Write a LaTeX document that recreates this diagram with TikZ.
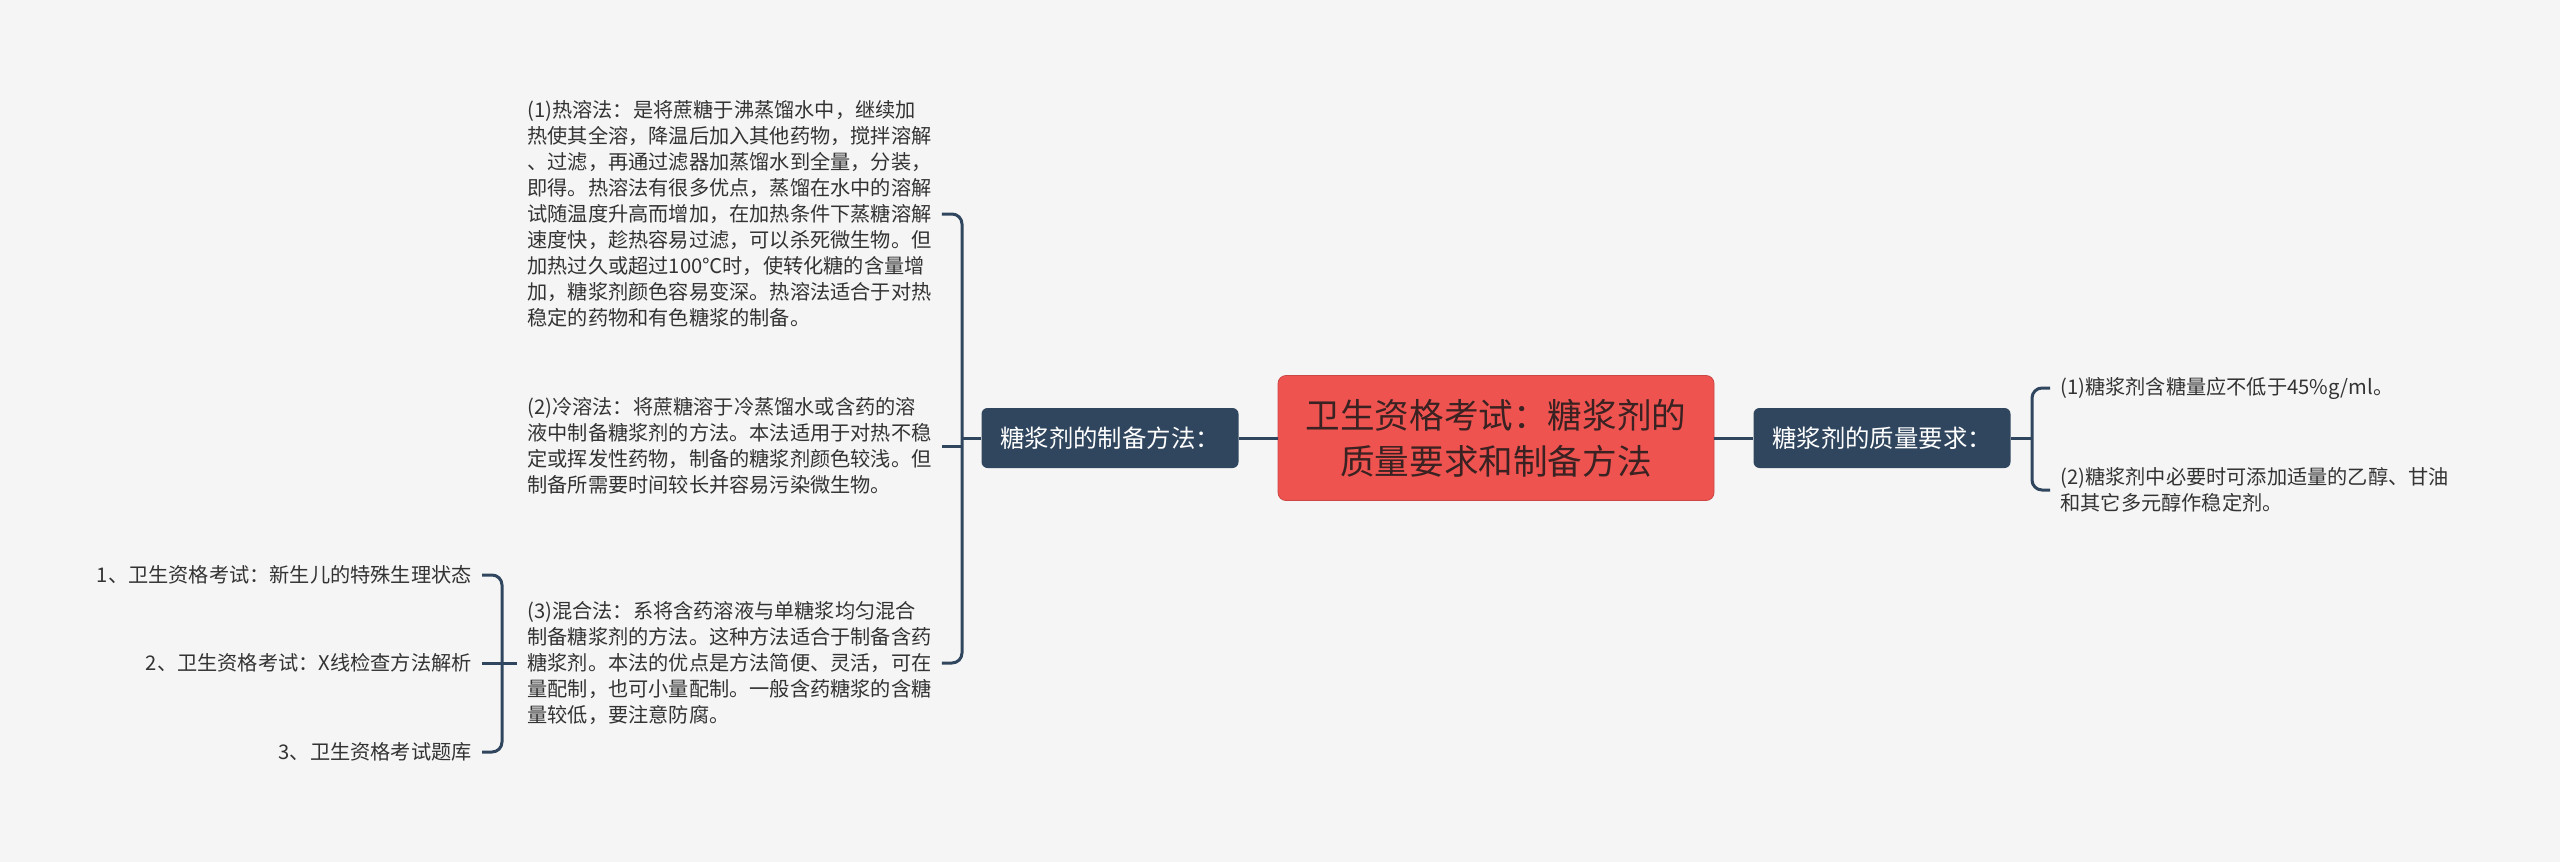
\documentclass[tikz,border=0pt]{standalone}
\usepackage{fontspec}
\setmainfont{Noto Sans CJK SC}
\usetikzlibrary{
positioning
}
\definecolor{bgcol}{HTML}{F5F5F5}
\definecolor{topicred}{HTML}{EF5350}
\definecolor{slate}{HTML}{30465E}
\definecolor{leaftext}{HTML}{333333}
\definecolor{titletext}{HTML}{3A2222}

\begin{document}
\begin{tikzpicture}[
x=0.5pt, y=-0.5pt,
root/.style={
rectangle,
rounded corners=4pt,
draw=topicred!85!black,
line width=0.4pt,
fill=topicred,
text=titletext,
minimum width=218pt,
minimum height=62.5pt,
align=center,
font=\fontsize{17.3}{22.9}\selectfont
},
branch/.style={
rectangle,
rounded corners=3pt,
fill=slate,
text=white,
minimum width=128.5pt,
minimum height=30pt,
align=center,
font=\fontsize{12.2}{15}\selectfont
},
leaf/.style={
inner xsep=5pt,
inner ysep=0pt,
align=left,
text=leaftext,
font=\fontsize{10.1}{13}\selectfont
},
link/.style={draw=slate, line width=1.5pt, rounded corners=5pt}
]

\fill[bgcol] (0,0) rectangle (2560,862);

\node[root] (title) at (1496,438) {卫生资格考试：糖浆剂的\\质量要求和制备方法};
\node[branch] (prep) at (1110,438) {糖浆剂的制备方法：};
\node[branch] (quality) at (1882,438) {糖浆剂的质量要求：};

% preparation methods
\node[leaf, anchor=west] (hot) at (517,214) {(1)热溶法：是将蔗糖于沸蒸馏水中，继续加\\热使其全溶，降温后加入其他药物，搅拌溶解\\、过滤，再通过滤器加蒸馏水到全量，分装，\\即得。热溶法有很多优点，蒸馏在水中的溶解\\试随温度升高而增加，在加热条件下蒸糖溶解\\速度快，趁热容易过滤，可以杀死微生物。但\\加热过久或超过100℃时，使转化糖的含量增\\加，糖浆剂颜色容易变深。热溶法适合于对热\\稳定的药物和有色糖浆的制备。};
\node[leaf, anchor=west] (cold) at (517,446) {(2)冷溶法：将蔗糖溶于冷蒸馏水或含药的溶\\液中制备糖浆剂的方法。本法适用于对热不稳\\定或挥发性药物，制备的糖浆剂颜色较浅。但\\制备所需要时间较长并容易污染微生物。};
\node[leaf, anchor=west] (mix) at (517,663) {(3)混合法：系将含药溶液与单糖浆均匀混合\\制备糖浆剂的方法。这种方法适合于制备含药\\糖浆剂。本法的优点是方法简便、灵活，可在\\量配制，也可小量配制。一般含药糖浆的含糖\\量较低，要注意防腐。};

% related links
\node[leaf, anchor=east] (item1) at (482,575) {1、卫生资格考试：新生儿的特殊生理状态};
\node[leaf, anchor=east] (item2) at (482,663) {2、卫生资格考试：X线检查方法解析};
\node[leaf, anchor=east] (item3) at (482,752) {3、卫生资格考试题库};

% quality requirements
\node[leaf, anchor=west] (req1) at (2050,388) {(1)糖浆剂含糖量应不低于45\%g/ml。};
\node[leaf, anchor=west] (req2) at (2050,490) {(2)糖浆剂中必要时可添加适量的乙醇、甘油\\和其它多元醇作稳定剂。};

\coordinate (lj) at (962,438);
\coordinate (mj) at (502,663);
\coordinate (rj) at (2032,438);

\draw[link] (title.west) -- (prep.east);
\draw[link] (title.east) -- (quality.west);

\draw[link] (prep.west) -- (lj);
\draw[link] (hot.east) -| (lj) |- (mix.east);
\draw[link] (cold.east) -- (cold.east -| lj);

\draw[link] (mix.west) -- (mj);
\draw[link] (item1.east) -| (mj) |- (item3.east);
\draw[link] (item2.east) -- (mj);

\draw[link] (quality.east) -- (rj);
\draw[link] (req1.west) -| (rj) |- (req2.west);

\end{tikzpicture}
\end{document}
